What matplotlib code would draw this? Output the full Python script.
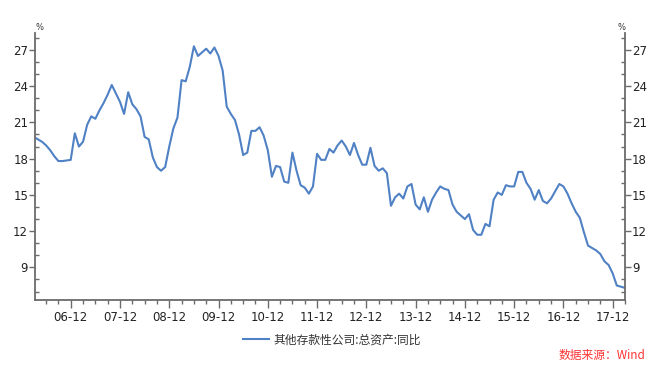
import matplotlib
matplotlib.use("Agg")
import matplotlib.pyplot as plt
from matplotlib.ticker import MultipleLocator, FixedLocator
import numpy as np

plt.rcParams['font.family'] = ['DejaVu Sans', 'Noto Sans CJK SC']

# Monthly data, 2006-03 .. 2018-03 (index 0 = 2006-03)
values = [
    19.8, 19.6, 19.4, 19.1, 18.7, 18.2, 17.8, 17.8, 17.85, 17.9,   # 2006-03..2006-12
    20.1, 19.0, 19.4, 20.8, 21.5, 21.3, 22.0, 22.6, 23.3, 24.1,    # 2007-01..2007-10
    23.4, 22.7, 21.7, 23.5, 22.5, 22.1, 21.5, 19.8, 19.6, 18.1,    # 2007-11..2008-08
    17.3, 17.0, 17.3, 19.0, 20.5, 21.4, 24.5, 24.4, 25.6, 27.3,    # 2008-09..2009-06
    26.5, 26.8, 27.1, 26.7, 27.2, 26.5, 25.3, 22.3, 21.7, 21.2,    # 2009-07..2010-04
    20.0, 18.3, 18.5, 20.3, 20.3, 20.6, 19.9, 18.7, 16.5, 17.4,    # 2010-05..2011-02
    17.3, 16.1, 16.0, 18.5, 17.0, 15.8, 15.6, 15.1, 15.7, 18.4,    # 2011-03..2011-12
    17.9, 17.9, 18.8, 18.5, 19.1, 19.5, 19.0, 18.3, 19.3, 18.3,    # 2012-01..2012-10
    17.5, 17.5, 18.9, 17.4, 17.0, 17.2, 16.8, 14.1, 14.8, 15.1,    # 2012-11..2013-08
    14.7, 15.7, 15.9, 14.2, 13.8, 14.8, 13.6, 14.6, 15.2, 15.7,    # 2013-09..2014-06
    15.5, 15.4, 14.2, 13.6, 13.3, 13.0, 13.4, 12.1, 11.7, 11.7,    # 2014-07..2015-04
    12.6, 12.4, 14.6, 15.2, 15.0, 15.8, 15.7, 15.7, 16.9, 16.9,    # 2015-05..2016-02
    16.0, 15.5, 14.6, 15.4, 14.5, 14.3, 14.7, 15.3, 15.9, 15.7,    # 2016-03..2016-12
    15.1, 14.3, 13.6, 13.1, 11.9, 10.8, 10.6, 10.4, 10.1, 9.5,     # 2017-01..2017-10
    9.2, 8.5, 7.5, 7.4, 7.3,                                       # 2017-11..2018-03
]
x_labels = ["06-12", "07-12", "08-12", "09-12", "10-12", "11-12",
            "12-12", "13-12", "14-12", "15-12", "16-12", "17-12"]
y_major = [9, 12, 15, 18, 21, 24, 27]
series_name = "其他存款性公司:总资产:同比"
source_text = "数据来源：Wind"

months = np.arange(len(values))
label_pos = [9 + 12 * k for k in range(len(x_labels))]

fig = plt.figure(figsize=(6.6, 3.7), dpi=100)
ax = fig.add_axes([35 / 660, 1 - 300 / 370, 590 / 660, 267 / 370])

line_color = "#4f81c4"
ax.plot(months, values, color=line_color, lw=1.5, label=series_name)

ax.set_xlim(0.3, 144)
ax.set_ylim(6.3, 28.4)

axis_color = "#6b6b6b"
for s in ["left", "right", "bottom"]:
    ax.spines[s].set_color(axis_color)
    ax.spines[s].set_linewidth(1.3)
ax.spines["top"].set_visible(False)

ax.yaxis.set_major_locator(FixedLocator(y_major))
ax.yaxis.set_minor_locator(MultipleLocator(1))
ax.set_yticklabels([str(v) for v in y_major])
ax.tick_params(axis="y", which="major", direction="out", length=4, width=1,
               color=axis_color, labelsize=8.5, labelcolor="#222222",
               left=True, right=True, labelleft=True, labelright=True, pad=1)
ax.tick_params(axis="y", which="minor", direction="in", length=3, width=1,
               color=axis_color, left=True, right=True)

ax.xaxis.set_major_locator(FixedLocator(label_pos))
ax.set_xticklabels(x_labels)
ax.xaxis.set_minor_locator(MultipleLocator(3))
ax.tick_params(axis="x", which="major", direction="out", length=6, width=1,
               color=axis_color, labelsize=8.5, labelcolor="#222222", pad=2)
ax.tick_params(axis="x", which="minor", direction="out", length=3, width=1,
               color=axis_color)

ax.text(0, 1.005, "%", transform=ax.transAxes, fontsize=6, ha="left", va="bottom", color="#333333")
ax.text(1, 1.005, "%", transform=ax.transAxes, fontsize=6, ha="right", va="bottom", color="#333333")

fig.legend(loc="center", bbox_to_anchor=(332 / 660, 1 - 340 / 370), frameon=False,
           prop={"family": ["Noto Sans CJK SC"], "size": 8.5}, handlelength=2.2,
           handletextpad=0.3, labelcolor="#333333")

fig.text(645 / 660, 1 - 355 / 370, source_text, color="#ff3333", fontsize=8.5,
         ha="right", va="center", style="italic",
         family=["Noto Sans CJK SC", "DejaVu Sans"])

fig.savefig("out.png", dpi=100)
